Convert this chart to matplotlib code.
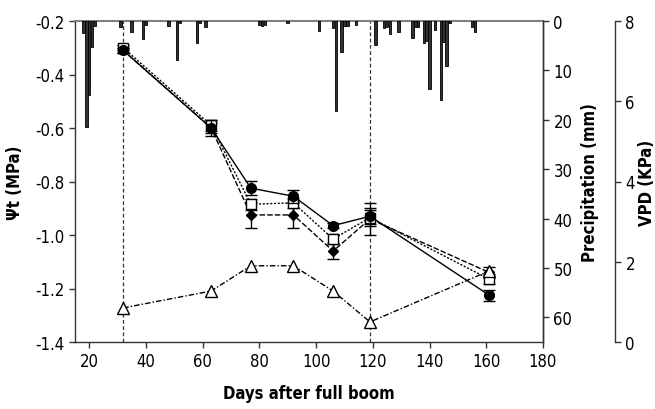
import numpy as np
import matplotlib
matplotlib.use("Agg")
import matplotlib.pyplot as plt
from matplotlib import font_manager

# pick a narrow face if one is installed
names = [f.name for f in font_manager.fontManager.ttflist]
if 'Liberation Sans Narrow' in names:
    plt.rcParams['font.family'] = ['Liberation Sans Narrow', 'DejaVu Sans']
else:
    plt.rcParams['font.family'] = ['DejaVu Sans']
    plt.rcParams['font.stretch'] = 'condensed'

# sampling days
days = [32, 63, 77, 92, 106, 119, 161]

# water potential series (MPa)
psi_circle = [-0.31, -0.60, -0.825, -0.855, -0.965, -0.93, -1.225]
err_circle = [0.01, 0.03, 0.025, 0.025, 0.01, 0.03, 0.02]
psi_square = [-0.30, -0.59, -0.885, -0.88, -1.015, -0.935, -1.165]
err_square = [0.01, 0.02, 0.02, 0.02, 0.02, 0.03, 0.02]
psi_diamond = [-0.31, -0.60, -0.925, -0.925, -1.06, -0.94, -1.14]
err_diamond = [0.01, 0.02, 0.05, 0.05, 0.03, 0.06, 0.02]

# VPD (KPa)
vpd = [0.85, 1.27, 1.9, 1.9, 1.27, 0.5, 1.77]

# daily precipitation (mm)
rain_days = [18, 19, 20, 21, 22, 31, 35, 39, 40, 48, 51, 52, 58, 59, 61,
             80, 81, 82, 90, 101, 106, 107, 109, 110, 111, 114, 121, 124, 125,
             126, 129, 134, 135, 136, 138, 139, 140, 142, 144, 145, 146, 147,
             155, 156]
rain_mm = [2.5, 21.5, 15, 5.2, 1, 1.2, 2.3, 3.7, 0.8, 1, 7.9, 0.5, 4.4, 0.5, 1.3,
           0.8, 1, 0.8, 0.5, 2.1, 1.4, 18.3, 6.3, 1, 1, 0.8, 4.9, 1.5, 1.2,
           2.6, 2.3, 3.5, 1.3, 1.3, 4.5, 4.0, 13.8, 1.8, 16, 4.2, 9.1, 0.5,
           1.3, 2.3]

dark = '#333333'

fig = plt.figure(figsize=(6.55, 4.10), dpi=100)
ax = fig.add_axes([75/655, 67/410, 468/655, 321/410])

ax.errorbar(days, psi_circle, yerr=err_circle, color='black', marker='o', ms=7,
            mfc='black', lw=1, ls='-', capsize=4, elinewidth=1, zorder=5)
ax.errorbar(days, psi_square, yerr=err_square, color='black', marker='s', ms=7,
            mfc='white', lw=1, ls=(0, (1.5, 1.2)), capsize=4, elinewidth=1, zorder=4)
ax.errorbar(days, psi_diamond, yerr=err_diamond, color='black', marker='D', ms=5,
            mfc='black', lw=1, ls=(0, (4, 1.5)), capsize=4, elinewidth=1, zorder=3)

for d in [32, 119]:
    ax.axvline(d, color=dark, lw=0.9, ls=(0, (3, 2)), zorder=1)

ax.set_xlim(15, 180)
ax.set_ylim(-1.4, -0.2)
ax.set_xticks(np.arange(20, 181, 20))
ax.set_yticks(np.arange(-1.4, -0.19, 0.2))
ax.set_yticklabels(['%.1f' % v for v in np.arange(-1.4, -0.19, 0.2)])
ax.set_xlabel('Days after full boom', fontsize=12, fontweight='bold', labelpad=10)
ax.set_ylabel('Ψt (MPa)', fontsize=12, fontweight='bold', labelpad=8)

# precipitation axis
ax2 = ax.twinx()
ax2.bar(rain_days, rain_mm, width=0.9, color=dark, edgecolor='black', lw=0.6)
ax2.set_ylim(65, 0)
ax2.set_yticks(np.arange(0, 61, 10))
ax2.set_ylabel('Precipitation (mm)', fontsize=12, fontweight='bold', labelpad=6)

# VPD axis
ax3 = ax.twinx()
ax3.plot(days, vpd, color='black', marker='^', ms=9, mfc='white', lw=1,
         ls=(0, (4, 1.5, 1, 1.5)))
ax3.set_ylim(0, 8)
ax3.set_yticks([0, 2, 4, 6, 8])
ax3.spines['right'].set_position(('axes', 1.154))
ax3.spines['right'].set_bounds(0, 8)
ax3.set_ylabel('VPD (KPa)', fontsize=12, fontweight='bold', labelpad=2)

for a in [ax, ax2, ax3]:
    a.tick_params(labelsize=12, direction='out', length=4, width=1, color=dark)
    for s in a.spines.values():
        s.set_color(dark)
        s.set_linewidth(1)
    a.spines['top'].set_visible(False)
ax.spines['top'].set_visible(True)
ax.spines['top'].set_color('#808080')
ax.spines['top'].set_linewidth(1.5)
ax3.spines['left'].set_visible(False)
ax3.spines['bottom'].set_visible(False)
ax2.spines['left'].set_visible(False)
ax2.spines['bottom'].set_visible(False)

fig.savefig('out.png', dpi=100)
